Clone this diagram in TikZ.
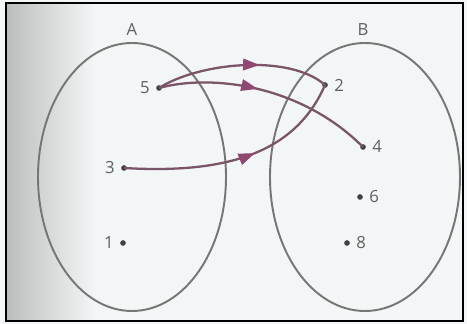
\documentclass[tikz,border=0pt]{standalone}
\usepackage{fontspec}
\setmainfont{Open Sans}
\usepackage{tikz}
\usetikzlibrary{arrows.meta,decorations.markings,positioning}
\definecolor{paper}{RGB}{243,246,246}
\definecolor{shadow}{RGB}{186,191,190}
\definecolor{setline}{RGB}{118,118,118}
\definecolor{ink}{RGB}{95,95,95}
\definecolor{mapline}{RGB}{122,84,104}
\definecolor{maptip}{RGB}{142,72,114}

\begin{document}
\begin{tikzpicture}[x=0.02cm, y=0.02cm,
  every node/.style={font=\fontsize{9.5}{11}\selectfont, text=ink},
  setbox/.style={draw=setline, line width=1.1pt},
  elem/.style={circle, fill=black!75, inner sep=0pt, minimum size=3.2pt, label distance=1.5pt},
  maparrow/.style={draw=mapline, line width=1.3pt, postaction={decorate},
    decoration={markings, mark=at position #1 with {\arrow[maptip]{Triangle[length=3.3mm, width=2.3mm]}}}}]
  \useasboundingbox (0,0) rectangle (467,324);
  \fill[paper] (0,0) rectangle (467,324);
  \shade[left color=shadow, right color=paper] (7,3) rectangle (95,321);
  \draw[black, line width=1.4pt] (6,3) rectangle (463,321);
  \node (setA) at (132,294) {A};
  \node (setB) at (363,294) {B};
  \draw[setbox] (132,147) ellipse [x radius=94, y radius=134];
  \draw[setbox] (365,147) ellipse [x radius=95, y radius=134];
  \node[elem, label=left:5] (a5) at (159,236) {};
  \node[elem, label=left:3] (a3) at (124,156) {};
  \node[elem, label=left:1] (a1) at (123,81) {};
  \node[elem, label=right:2] (b2) at (325,239) {};
  \node[elem, label=right:4] (b4) at (363,177) {};
  \node[elem, label=right:6] (b6) at (360,127) {};
  \node[elem, label=right:8] (b8) at (347,81) {};
  \draw[maparrow=0.6] (a5.center) .. controls (200,262) and (290,270) .. (b2.center);
  \draw[maparrow=0.45] (a5.center) .. controls (210,250) and (300,240) .. (b4.center);
  \draw[maparrow=0.57] (a3.center) .. controls (225,150) and (295,170) .. (b2.center);
\end{tikzpicture}
\end{document}
